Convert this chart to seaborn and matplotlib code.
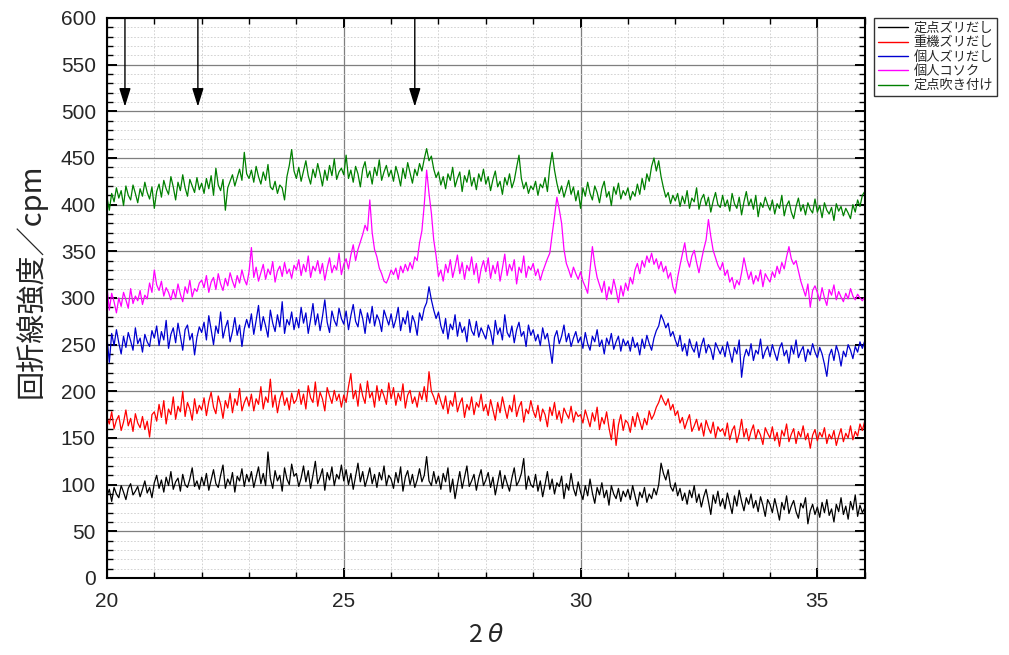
import numpy as np
import pandas as pd
import matplotlib
matplotlib.use("Agg")
import matplotlib.pyplot as plt
import seaborn as sns
from matplotlib.ticker import MultipleLocator

sns.set_theme(style="ticks")
plt.rcParams['font.family'] = ['Noto Sans CJK JP', 'DejaVu Sans']
plt.rcParams['axes.unicode_minus'] = False
plt.rcParams['mathtext.fontset'] = 'dejavusans'

# ---- data (2θ step 0.05) ----
two_theta = np.round(np.arange(20.0, 36.0001, 0.05), 2)

series_names = ['定点ズリだし', '重機ズリだし', '個人ズリだし', '個人コソク', '定点吹き付け']
series_colors = ['#000000', '#ff0000', '#0000d0', '#ff00ff', '#008000']

black_vals = [
    88, 95, 82, 97, 90, 86, 99, 92, 84, 96, 101, 89, 93, 98, 87, 95, 104, 91, 97, 86,
    102, 110, 96, 105, 92, 108, 99, 114, 95, 103, 107, 93, 111, 100, 97, 106, 118, 98, 104, 95,
    108, 99, 112, 94, 105, 116, 101, 97, 110, 121, 96, 106, 100, 113, 92, 109, 104, 117, 98, 111,
    103, 114, 97, 108, 119, 101, 112, 99, 135, 107, 96, 115, 104, 110, 93, 118, 106, 100, 122, 109,
    112, 98, 107, 120, 103, 115, 96, 110, 125, 101, 108, 117, 94, 113, 105, 119, 99, 111, 106, 121,
    104, 116, 100, 112, 95, 109, 123, 103, 114, 98, 107, 118, 101, 111, 97, 113, 105, 120, 99, 110,
    106, 96, 113, 102, 119, 93, 108, 115, 100, 111, 97, 105, 117, 103, 110, 130, 104, 99, 114, 101,
    109, 95, 112, 103, 118, 92, 106, 85, 100, 114, 96, 108, 120, 98, 104, 111, 94, 107, 116, 99,
    105, 113, 97, 108, 89, 102, 115, 96, 110, 101, 93, 107, 118, 99, 104, 112, 128, 95, 109, 100,
    97, 111, 93, 104, 87, 100, 114, 95, 106, 90, 102, 98, 109, 85, 101, 94, 112, 96, 88, 103,
    92, 84, 99, 88, 106, 91, 80, 97, 89, 102, 86, 94, 78, 99, 90, 85, 96, 82, 93, 87,
    95, 84, 99, 88, 77, 92, 86, 97, 81, 90, 85, 96, 89, 100, 123, 112, 105, 116, 98, 93,
    102, 88, 96, 83, 91, 79, 94, 86, 99, 81, 90, 76, 87, 95, 82, 68, 89, 80, 93, 77,
    85, 74, 91, 80, 69, 88, 77, 94, 82, 72, 86, 79, 90, 75, 83, 71, 87, 78, 66, 84,
    79, 70, 85, 74, 62, 81, 73, 88, 69, 77, 83, 71, 64, 80, 75, 86, 58, 72, 79, 68,
    76, 65, 81, 70, 84, 67, 74, 60, 79, 71, 86, 68, 77, 63, 82, 73, 89, 66, 78, 70,
    75,
]

red_vals = [
    172, 165, 178, 160, 169, 174, 158, 167, 180, 163, 171, 157, 176, 166, 161, 173, 159, 168, 151, 175,
    178, 168, 186, 172, 190, 165, 181, 175, 194, 170, 184, 178, 200, 173, 188, 181, 169, 192, 176, 185,
    180, 193, 174, 189, 199, 183, 176, 195, 186, 171, 190, 182, 198, 177, 192, 185, 203, 179, 188, 194,
    184, 197, 179, 192, 186, 205, 181, 194, 188, 213, 183, 196, 177, 191, 200, 185, 193, 180, 198, 187,
    191, 202, 186, 197, 181, 206, 193, 188, 210, 184, 199, 192, 179, 204, 195, 187, 201, 190, 197, 183,
    196, 188, 205, 219, 192, 201, 184, 208, 195, 187, 211, 193, 199, 183, 206, 190, 202, 195, 186, 209,
    192, 204, 185, 198, 190, 208, 182, 196, 201, 187, 194, 183, 199, 191, 205, 189, 221, 200, 194, 186,
    198, 189, 181, 195, 176, 190, 184, 199, 178, 187, 193, 172, 186, 180, 194, 175, 188, 183, 197, 179,
    186, 174, 191, 180, 169, 188, 177, 194, 182, 171, 185, 178, 196, 173, 183, 189, 167, 181, 176, 190,
    179, 172, 185, 168, 181, 175, 162, 183, 174, 188, 170, 179, 166, 182, 176, 171, 184, 167, 178, 173,
    175, 166, 180, 171, 162, 177, 168, 183, 159, 172, 165, 178, 161, 148, 170, 142, 164, 175, 158, 169,
    166, 156, 173, 162, 177, 168, 159, 171, 164, 179, 170, 175, 183, 188, 196, 190, 185, 192, 180, 186,
    174, 179, 166, 172, 160, 168, 175, 157, 163, 170, 158, 166, 152, 169, 161, 155, 167, 150, 162, 157,
    160, 152, 166, 148, 158, 163, 145, 155, 170, 151, 160, 147, 157, 164, 149, 159, 153, 143, 161, 155,
    150, 162, 147, 156, 141, 158, 152, 165, 146, 154, 160, 144, 157, 151, 163, 148, 155, 139, 153, 159,
    147, 156, 151, 161, 144, 154, 149, 158, 142, 152, 160, 146, 155, 150, 163, 148, 157, 152, 165, 158,
    168,
]

blue_vals = [
    258, 231, 262, 249, 266, 252, 240, 259, 247, 263, 254, 244, 268, 251, 257, 242, 261, 253, 248, 265,
    257, 270, 249, 264, 255, 276, 246, 261, 268, 252, 273, 259, 244, 266, 271, 255, 262, 239, 258, 269,
    263, 274, 255, 281, 266, 250, 270, 262, 285, 257, 268, 276, 253, 264, 279, 260, 271, 248, 267, 277,
    268, 283, 261, 276, 292, 265, 280, 270, 258, 287, 273, 264, 282, 269, 296, 262, 277, 271, 285, 266,
    279, 268, 290, 273, 284, 262, 277, 294, 271, 283, 265, 280, 298, 274, 263, 286, 276, 270, 289, 278,
    272, 286, 266, 281, 293, 275, 269, 288, 278, 262, 284, 273, 291, 270, 282, 276, 264, 287, 279, 271,
    283, 268, 277, 290, 265, 279, 272, 286, 263, 281, 274, 260, 284, 276, 289, 295, 312, 298, 287, 278,
    285, 270, 262, 278, 256, 272, 266, 282, 259, 274, 263, 269, 253, 277, 265, 260, 275, 258, 268, 262,
    256, 271, 264, 250, 276, 261, 268, 255, 282, 263, 258, 270, 252, 266, 274, 259, 264, 248, 271, 260,
    266, 254, 261, 249, 268, 256, 262, 247, 230, 258, 265, 251, 259, 271, 253, 262, 248, 257, 264, 252,
    258, 246, 263, 251, 244, 259, 253, 266, 248, 255, 240, 257, 250, 262, 245, 253, 259, 243, 256, 249,
    254, 243, 258, 247, 252, 239, 256, 246, 260, 251, 244, 257, 265, 270, 282, 276, 268, 273, 259, 264,
    255, 248, 260, 243, 251, 238, 256, 247, 242, 253, 236, 249, 257, 241, 250, 245, 234, 252, 246, 240,
    248, 237, 253, 242, 231, 247, 240, 255, 215, 236, 245, 238, 251, 233, 244, 240, 256, 235, 243, 248,
    237, 250, 241, 233, 246, 252, 238, 244, 230, 249, 240, 255, 236, 243, 248, 232, 245, 239, 251, 242,
    236, 247, 240, 229, 216, 238, 245, 233, 249, 241, 227, 243, 237, 250, 244, 235, 248, 242, 253, 246,
    254,
]

pink_vals = [
    312, 287, 305, 296, 284, 300, 291, 306, 298, 289, 310, 294, 302, 297, 308, 293, 303, 299, 316, 306,
    330, 314, 308, 318, 302, 311, 306, 298, 309, 300, 315, 304, 296, 312, 305, 319, 301, 310, 307, 316,
    319, 311, 324, 306, 317, 322, 309, 326, 315, 308, 321, 313, 327, 318, 311, 324, 316, 330, 320, 314,
    328, 354, 322, 333, 318, 327, 336, 320, 331, 325, 339, 317, 329, 334, 323, 338, 326, 331, 321, 335,
    330, 341, 324, 336, 328, 345, 322, 334, 329, 340, 326, 337, 319, 332, 343, 327, 335, 330, 348, 325,
    336, 342, 331, 346, 357, 340, 352, 360, 368, 378, 372, 405, 370, 352, 344, 332, 326, 318, 316, 322,
    330, 325, 332, 320, 334, 327, 336, 329, 338, 331, 344, 340, 359, 372, 400, 437, 412, 391, 362, 345,
    323, 330, 318, 336, 327, 341, 322, 333, 346, 326, 338, 320, 335, 329, 344, 325, 337, 316, 331, 340,
    328, 343, 321, 335, 326, 339, 318, 332, 347, 324, 336, 329, 341, 315, 333, 327, 345, 322, 334, 330,
    337, 324, 331, 319, 328, 335, 342, 348, 368, 387, 408, 395, 380, 352, 337, 330, 322, 333, 326, 320,
    328, 318, 312, 305, 330, 355, 336, 322, 314, 306, 318, 298, 312, 304, 320, 309, 295, 313, 302, 316,
    308, 322, 315, 330, 337, 326, 340, 333, 345, 338, 348, 336, 342, 331, 339, 328, 334, 321, 327, 312,
    305, 322, 335, 347, 359, 341, 333, 345, 351, 338, 327, 340, 352, 362, 384, 366, 351, 343, 335, 330,
    338, 324, 330, 317, 322, 310, 319, 314, 327, 343, 331, 320, 328, 315, 324, 318, 330, 312, 326, 321,
    317, 328, 322, 334, 326, 338, 331, 344, 355, 342, 336, 340, 329, 318, 310, 302, 315, 290, 308, 313,
    306, 297, 311, 300, 292, 309, 303, 314, 298, 307, 301, 296, 305, 299, 310, 302, 298, 304, 300, 297,
    301,
]

green_vals = [
    408, 394, 412, 403, 418, 407, 415, 399, 420, 410, 405, 421, 412, 402, 417, 409, 424, 413, 406, 419,
    396, 414, 422, 408, 426, 417, 411, 430, 419, 405, 424, 415, 432, 418, 409, 427, 420, 413, 429, 416,
    423, 412, 428, 417, 431, 410, 439, 421, 415, 427, 394, 418, 425, 432, 420, 429, 438, 426, 456, 433,
    428, 437, 424, 441, 430, 422, 435, 426, 443, 419, 416, 425, 412, 421, 418, 405, 430, 442, 459, 436,
    428, 440, 425, 436, 447, 431, 422, 438, 429, 444, 433, 420, 437, 426, 442, 431, 449, 427, 435, 439,
    432, 453, 428, 437, 424, 441, 433, 419, 438, 446, 429, 436, 422, 440, 431, 448, 426, 435, 442, 430,
    437, 425, 441, 432, 420, 439, 428, 445, 434, 423, 438, 431, 444, 436, 449, 460, 447, 452, 438, 429,
    435, 421, 430, 417, 433, 426, 440, 419, 428, 435, 414, 431, 424, 437, 420, 429, 416, 433, 425, 438,
    422, 430, 415, 427, 436, 419, 425, 411, 429, 421, 433, 418, 426, 440, 453, 428, 417, 424, 412, 420,
    416, 425, 410, 422, 418, 429, 414, 440, 456, 437, 423, 412, 420, 408, 417, 426, 411, 419, 404, 415,
    396, 418, 409, 424, 412, 405, 420, 413, 402, 417, 425, 408, 414, 399, 419, 411, 423, 406, 415, 410,
    418, 405, 414, 409, 422, 411, 428, 416, 433, 425, 441, 450, 436, 447, 430, 418, 408, 413, 401, 410,
    404, 412, 398, 409, 401, 415, 396, 407, 403, 418, 395, 406, 411, 399, 408, 392, 404, 413, 400, 397,
    410, 398, 405, 393, 412, 401, 396, 408, 389, 403, 414, 399, 406, 395, 410, 387, 402, 397, 408, 400,
    394, 405, 390, 401, 396, 410, 388, 399, 404, 392, 385, 398, 407, 393, 400, 389, 402, 395, 391, 406,
    392, 399, 386, 402, 394, 390, 397, 383, 401, 393, 398, 388, 396, 391, 385, 400, 392, 405, 398, 410,
    414,
]

# arrows marking peaks (2θ positions), drawn from top down to tip level
arrow_x = [20.38, 21.92, 26.5]
arrow_top = 600
arrow_tip = 505

frames = []
for name, vals in zip(series_names, [black_vals, red_vals, blue_vals, pink_vals, green_vals]):
    frames.append(pd.DataFrame({'2θ': two_theta, 'cpm': vals, 'sample': name}))
df = pd.concat(frames, ignore_index=True)

fig = plt.figure(figsize=(10.09, 6.55), dpi=100)
ax = fig.add_axes([0.106, 0.1176, 0.751, 0.855])

sns.lineplot(data=df, x='2θ', y='cpm', hue='sample', hue_order=series_names,
             palette=series_colors, estimator=None, sort=False, linewidth=0.9, ax=ax)

ax.set_xlim(20, 36)
ax.set_ylim(0, 600)
ax.xaxis.set_major_locator(MultipleLocator(5))
ax.xaxis.set_minor_locator(MultipleLocator(1))
ax.yaxis.set_major_locator(MultipleLocator(50))
ax.yaxis.set_minor_locator(MultipleLocator(10))

ax.grid(which='major', color='#7f7f7f', linewidth=0.9, linestyle='-')
ax.grid(which='minor', color='#cccccc', linewidth=0.6, linestyle=(0, (2, 2)))
ax.set_axisbelow(True)

ax.tick_params(which='both', direction='in', top=True, right=True, color='black')
ax.tick_params(which='major', length=7, width=1.4)
ax.tick_params(which='minor', length=4, width=1.0)
ax.tick_params(axis='y', which='major', labelsize=15, pad=8)
ax.tick_params(axis='x', which='major', labelsize=15, pad=10)
for lbl in ax.get_yticklabels():
    lbl.set_family(['Liberation Sans', 'DejaVu Sans'])
for lbl in ax.get_xticklabels():
    lbl.set_family(['Liberation Sans Narrow', 'Liberation Sans', 'DejaVu Sans'])

for sp in ax.spines.values():
    sp.set_color('black')
    sp.set_linewidth(1.5)

ax.set_ylabel('回折線強度／cpm', fontsize=21)
ax.yaxis.set_label_coords(-0.08, 0.53)
ax.set_xlabel('2 $\\theta$', fontsize=18, labelpad=8)

for xa in arrow_x:
    ax.annotate('', xy=(xa, arrow_tip), xytext=(xa, arrow_top),
                arrowprops=dict(arrowstyle='-|>,head_width=0.25,head_length=0.8',
                                color='black', lw=1.0,
                                mutation_scale=14, shrinkA=0, shrinkB=0))

leg = ax.legend(loc='upper left', bbox_to_anchor=(1.012, 1.0), fontsize=9.5,
                frameon=True, fancybox=False, edgecolor='black', handlelength=2.3,
                borderpad=0.3, labelspacing=0.1, handletextpad=0.4, borderaxespad=0)
leg.get_frame().set_linewidth(1.0)
for line in leg.get_lines():
    line.set_linewidth(1.0)

fig.savefig('out.png', dpi=100)
